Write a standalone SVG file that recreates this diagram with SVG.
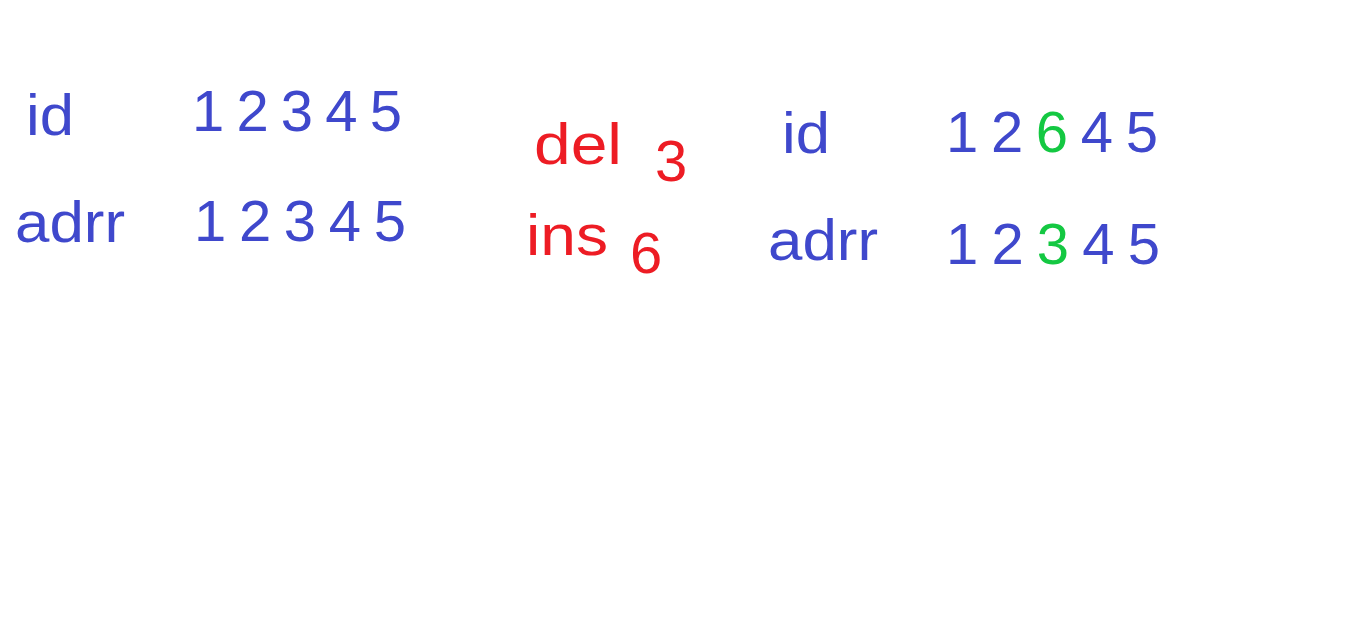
<svg xmlns="http://www.w3.org/2000/svg" width="1350" height="629" viewBox="0 0 1350 629">
<style>
text{font-family:"Liberation Sans","DejaVu Sans",sans-serif;font-size:58px}
.b{fill:#3f48cc}
.r{fill:#ed1c24}
.g{fill:#14c842}
</style>
<rect width="1350" height="629" fill="#ffffff"/>
<g id="before">
<text class="b" x="26" y="135" font-size="68" textLength="48" lengthAdjust="spacingAndGlyphs">id</text>
<text class="b" x="192" y="131" textLength="210" lengthAdjust="spacing">12345</text>
<text class="b" x="15" y="242" font-size="62" textLength="110" lengthAdjust="spacingAndGlyphs">adrr</text>
<text class="b" x="194" y="241" textLength="212" lengthAdjust="spacing">12345</text>
</g>
<g id="ops">
<text class="r" x="534" y="164" font-size="68" textLength="88" lengthAdjust="spacingAndGlyphs">del</text>
<text class="r" x="655" y="181" font-size="66">3</text>
<text class="r" x="526" y="255" font-size="62" textLength="82" lengthAdjust="spacingAndGlyphs">ins</text>
<text class="r" x="630" y="273" font-size="58">6</text>
</g>
<g id="after">
<text class="b" x="782" y="153" font-size="68" textLength="48" lengthAdjust="spacingAndGlyphs">id</text>
<text class="b" x="946" y="152" textLength="212" lengthAdjust="spacing">12<tspan class="g">6</tspan>45</text>
<text class="b" x="768" y="260" font-size="62" textLength="110" lengthAdjust="spacingAndGlyphs">adrr</text>
<text class="b" x="946" y="264" textLength="214" lengthAdjust="spacing">12<tspan class="g">3</tspan>45</text>
</g>
</svg>
